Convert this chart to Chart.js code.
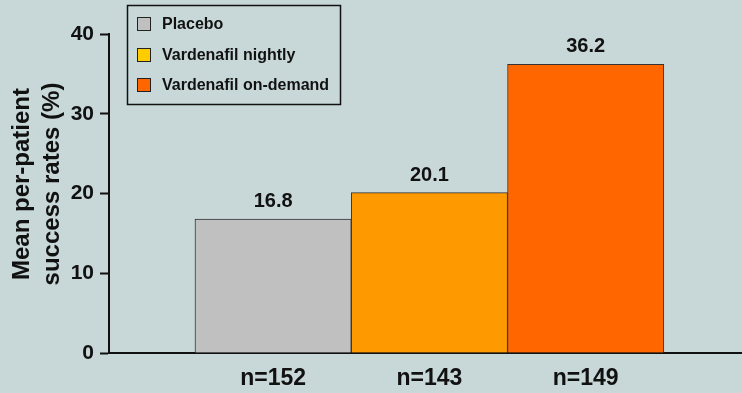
<!DOCTYPE html>
<html>
<head>
<meta charset="utf-8">
<script src="https://cdn.jsdelivr.net/npm/chart.js@4/dist/chart.umd.min.js"></script>
<style>
  html, body { margin: 0; padding: 0; background: #c8d8d8; }
  #wrap { width: 742px; height: 393px; position: relative; }
</style>
</head>
<body>
<div id="wrap"><canvas id="rates"></canvas></div>
<script>
// study arms, mean per-patient success rates and group sizes
const groups = ["Placebo", "Vardenafil nightly", "Vardenafil on-demand"];
const successRates = [16.8, 20.1, 36.2];
const sampleSizes = ["n=152", "n=143", "n=149"];
const yTicks = [0, 10, 20, 30, 40];
const yTitle = ["Mean per-patient", "success rates (%)"];

const barColors = ["#c0c0c0", "#ff9900", "#ff6600"];
const legendColors = ["#c0c0c0", "#ffcc00", "#ff6600"];
const FONT = "'Liberation Sans', Arial, sans-serif";

// value printed above each bar
const valueLabels = {
  id: "valueLabels",
  afterDatasetsDraw(chart) {
    const ctx = chart.ctx;
    const meta = chart.getDatasetMeta(0);
    ctx.save();
    ctx.font = "bold 20px " + FONT;
    ctx.fillStyle = "#111";
    ctx.textAlign = "center";
    ctx.textBaseline = "alphabetic";
    meta.data.forEach((bar, i) => {
      ctx.fillText(successRates[i].toFixed(1), bar.x, bar.y - 12);
    });
    ctx.restore();
  }
};

// rotated two-line y axis title
const yAxisTitle = {
  id: "yAxisTitle",
  afterDraw(chart) {
    const ctx = chart.ctx;
    ctx.save();
    ctx.translate(0, 184);
    ctx.rotate(-Math.PI / 2);
    ctx.font = "bold 24px " + FONT;
    ctx.fillStyle = "#111";
    ctx.textAlign = "center";
    ctx.textBaseline = "middle";
    yTitle.forEach((line, i) => ctx.fillText(line, 0, 22 + i * 30));
    ctx.restore();
  }
};

// boxed legend in the upper left
const boxLegend = {
  id: "boxLegend",
  afterDraw(chart) {
    const ctx = chart.ctx;
    const left = 127, top = 5, w = 213, h = 99;
    ctx.save();
    ctx.strokeStyle = "#111";
    ctx.lineWidth = 1.5;
    ctx.strokeRect(left + 0.5, top + 0.5, w, h);
    ctx.font = "bold 16px " + FONT;
    ctx.textBaseline = "middle";
    ctx.textAlign = "left";
    groups.forEach((name, i) => {
      const cy = [24, 55, 85][i];
      ctx.fillStyle = legendColors[i];
      ctx.fillRect(137.5, cy - 6.5, 13, 13);
      ctx.lineWidth = 1;
      ctx.strokeStyle = "#222";
      ctx.strokeRect(137.5, cy - 6.5, 13, 13);
      ctx.fillStyle = "#111";
      ctx.fillText(name, 162, cy + 1);
    });
    ctx.restore();
  }
};

new Chart(document.getElementById("rates"), {
  type: "bar",
  data: {
    datasets: [{
      data: successRates.map((v, i) => ({ x: i + 1, y: v })),
      backgroundColor: barColors,
      borderColor: "#333",
      borderWidth: 1,
      categoryPercentage: 1,
      barPercentage: 1
    }]
  },
  options: {
    responsive: true,
    maintainAspectRatio: false,
    animation: false,
    layout: { padding: { top: 34, right: 0, left: 0, bottom: 0 } },
    plugins: { legend: { display: false }, tooltip: { enabled: false } },
    scales: {
      x: {
        type: "linear",
        offset: false,
        min: -0.05,
        max: 4,
        afterBuildTicks(scale) {
          scale.ticks = [1, 2, 3].map(v => ({ value: v }));
        },
        afterFit(scale) { scale.height = 40; },
        ticks: {
          autoSkip: false,
          maxRotation: 0,
          padding: 4,
          color: "#111",
          font: { family: FONT, size: 23, weight: "bold" },
          callback: v => sampleSizes[v - 1]
        },
        grid: { display: false },
        border: { display: true, color: "#111", width: 2 }
      },
      y: {
        min: 0,
        max: 40,
        afterBuildTicks(scale) {
          scale.ticks = yTicks.map(v => ({ value: v }));
        },
        afterFit(scale) { scale.width = 109; },
        ticks: {
          padding: 6,
          color: "#111",
          font: { family: FONT, size: 21, weight: "bold" }
        },
        grid: {
          drawOnChartArea: false,
          drawTicks: true,
          tickLength: 9,
          tickWidth: 2,
          tickColor: "#111"
        },
        border: { display: true, color: "#111", width: 2 }
      }
    }
  },
  plugins: [valueLabels, yAxisTitle, boxLegend]
});
</script>
</body>
</html>
